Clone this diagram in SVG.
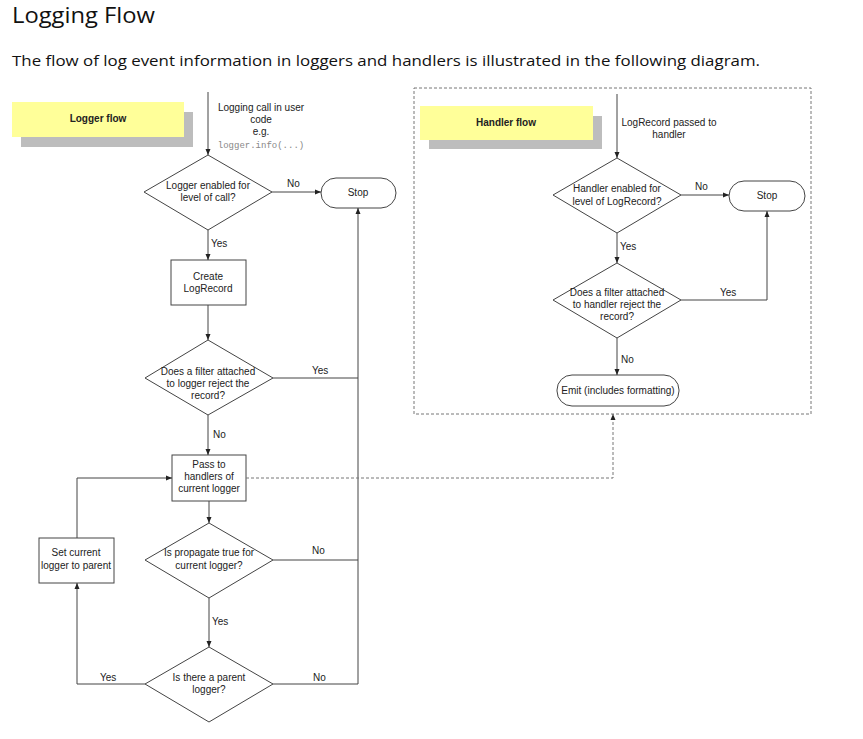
<svg xmlns="http://www.w3.org/2000/svg" width="863" height="739" viewBox="0 0 863 739">
<style>
.t{font-family:"Liberation Sans",Arial,sans-serif;font-size:10px;fill:#222;text-anchor:middle}
.lbl{font-family:"Liberation Sans",Arial,sans-serif;font-size:10px;fill:#222}
.b{font-weight:bold}
.mono{font-family:"Liberation Mono","Courier New",monospace;font-size:9px;fill:#888;text-anchor:middle}
.shape{fill:#fff;stroke:#444;stroke-width:1}
.ln{fill:none;stroke:#444;stroke-width:1}
.dash{fill:none;stroke:#777;stroke-width:1;stroke-dasharray:3,2}
.head{font-family:"Open Sans","DejaVu Sans",sans-serif;fill:#111}
</style>
<defs>
<marker id="ar" viewBox="0 0 6 6" refX="6" refY="3" markerWidth="6" markerHeight="6" orient="auto" markerUnits="userSpaceOnUse">
<path d="M0,0.5 L6,3 L0,5.5 z" fill="#222"/>
</marker>
</defs>
<rect width="863" height="739" fill="#fff"/>
<text class="head" x="12" y="23" font-size="21" textLength="143" lengthAdjust="spacingAndGlyphs">Logging Flow</text>
<text class="head" x="12" y="66" font-size="15" textLength="748" lengthAdjust="spacingAndGlyphs">The flow of log event information in loggers and handlers is illustrated in the following diagram.</text>

<g id="logger-flow-title">
<rect x="21" y="112" width="172" height="35" fill="#bdbdbd"/>
<rect x="12" y="102" width="172" height="35" fill="#ffff99"/>
<text class="t b" x="98" y="122">Logger flow</text>
</g>
<g id="call-label">
<text class="t" x="261" y="111">Logging call in user</text>
<text class="t" x="261" y="123">code</text>
<text class="t" x="261" y="135">e.g.</text>
<text class="mono" x="261" y="148">logger.info(...)</text>
</g>
<g id="d-logger-enabled">
<polygon class="shape" points="208,155 272,192 208,230 144,192"/>
<text class="t" x="208" y="189">Logger enabled for</text>
<text class="t" x="208" y="201">level of call?</text>
</g>
<g id="stop1">
<rect class="shape" x="321" y="178" width="75" height="30" rx="15" ry="15"/>
<text class="t" x="358" y="196">Stop</text>
</g>
<g id="create-record">
<rect class="shape" x="171" y="260" width="75" height="45"/>
<text class="t" x="208" y="280">Create</text>
<text class="t" x="208" y="292">LogRecord</text>
</g>
<g id="d-logger-filter">
<polygon class="shape" points="208,340 273,378 208,415 145,378"/>
<text class="t" x="208" y="375">Does a filter attached</text>
<text class="t" x="208" y="387">to logger reject the</text>
<text class="t" x="208" y="399">record?</text>
</g>
<g id="pass-handlers">
<rect class="shape" x="172" y="455" width="74" height="46"/>
<text class="t" x="209" y="468">Pass to</text>
<text class="t" x="209" y="480">handlers of</text>
<text class="t" x="209" y="492">current logger</text>
</g>
<g id="set-parent">
<rect class="shape" x="39" y="538" width="75" height="45"/>
<text class="t" x="76" y="556">Set current</text>
<text class="t" x="76" y="569">logger to parent</text>
</g>
<g id="d-propagate">
<polygon class="shape" points="209,523 273,560 209,598 145,560"/>
<text class="t" x="209" y="556">Is propagate true for</text>
<text class="t" x="209" y="569">current logger?</text>
</g>
<g id="d-parent">
<polygon class="shape" points="209,647 273,684 209,722 145,684"/>
<text class="t" x="209" y="681">Is there a parent</text>
<text class="t" x="209" y="693">logger?</text>
</g>

<g id="handler-box">
<rect class="dash" x="414" y="88" width="397" height="326"/>
</g>
<g id="handler-flow-title">
<rect x="429" y="116" width="173" height="33" fill="#bdbdbd"/>
<rect x="420" y="106" width="173" height="34" fill="#ffff99"/>
<text class="t b" x="506" y="126">Handler flow</text>
</g>
<g id="handler-label">
<text class="t" x="669" y="126">LogRecord passed to</text>
<text class="t" x="669" y="138">handler</text>
</g>
<g id="d-handler-enabled">
<polygon class="shape" points="617,158 681,195 617,233 553,195"/>
<text class="t" x="617" y="192">Handler enabled for</text>
<text class="t" x="617" y="205">level of LogRecord?</text>
</g>
<g id="stop2">
<rect class="shape" x="729" y="181" width="76" height="30" rx="15" ry="15"/>
<text class="t" x="767" y="199">Stop</text>
</g>
<g id="d-handler-filter">
<polygon class="shape" points="617,263 681,300 617,338 553,300"/>
<text class="t" x="617" y="296">Does a filter attached</text>
<text class="t" x="617" y="308">to handler reject the</text>
<text class="t" x="617" y="320">record?</text>
</g>
<g id="emit">
<rect class="shape" x="557" y="375" width="122" height="31" rx="15" ry="15"/>
<text class="t" x="618" y="394">Emit (includes formatting)</text>
</g>

<g id="connectors">
<path class="ln" d="M208,92 V155" marker-end="url(#ar)"/>
<path class="ln" d="M272,192 H321" marker-end="url(#ar)"/>
<path class="ln" d="M208,230 V260" marker-end="url(#ar)"/>
<path class="ln" d="M208,305 V340" marker-end="url(#ar)"/>
<path class="ln" d="M273,378 H358"/>
<path class="ln" d="M208,415 V455" marker-end="url(#ar)"/>
<path class="ln" d="M209,501 V523" marker-end="url(#ar)"/>
<path class="ln" d="M273,560 H358"/>
<path class="ln" d="M209,598 V647" marker-end="url(#ar)"/>
<path class="ln" d="M273,684 H358 V208" marker-end="url(#ar)"/>
<path class="ln" d="M145,684 H77 V583" marker-end="url(#ar)"/>
<path class="ln" d="M77,538 V478 H172" marker-end="url(#ar)"/>
<path class="dash" d="M246,478 H613 V414" marker-end="url(#ar)"/>
<path class="ln" d="M617,94 V158" marker-end="url(#ar)"/>
<path class="ln" d="M681,195 H729" marker-end="url(#ar)"/>
<path class="ln" d="M617,233 V263" marker-end="url(#ar)"/>
<path class="ln" d="M681,300 H767 V211" marker-end="url(#ar)"/>
<path class="ln" d="M617,338 V375" marker-end="url(#ar)"/>
<text class="lbl" x="287" y="187">No</text>
<text class="lbl" x="211" y="247">Yes</text>
<text class="lbl" x="312" y="374">Yes</text>
<text class="lbl" x="213" y="438">No</text>
<text class="lbl" x="312" y="554">No</text>
<text class="lbl" x="212" y="625">Yes</text>
<text class="lbl" x="100" y="681">Yes</text>
<text class="lbl" x="313" y="681">No</text>
<text class="lbl" x="695" y="190">No</text>
<text class="lbl" x="620" y="250">Yes</text>
<text class="lbl" x="720" y="296">Yes</text>
<text class="lbl" x="621" y="363">No</text>
</g>
</svg>
